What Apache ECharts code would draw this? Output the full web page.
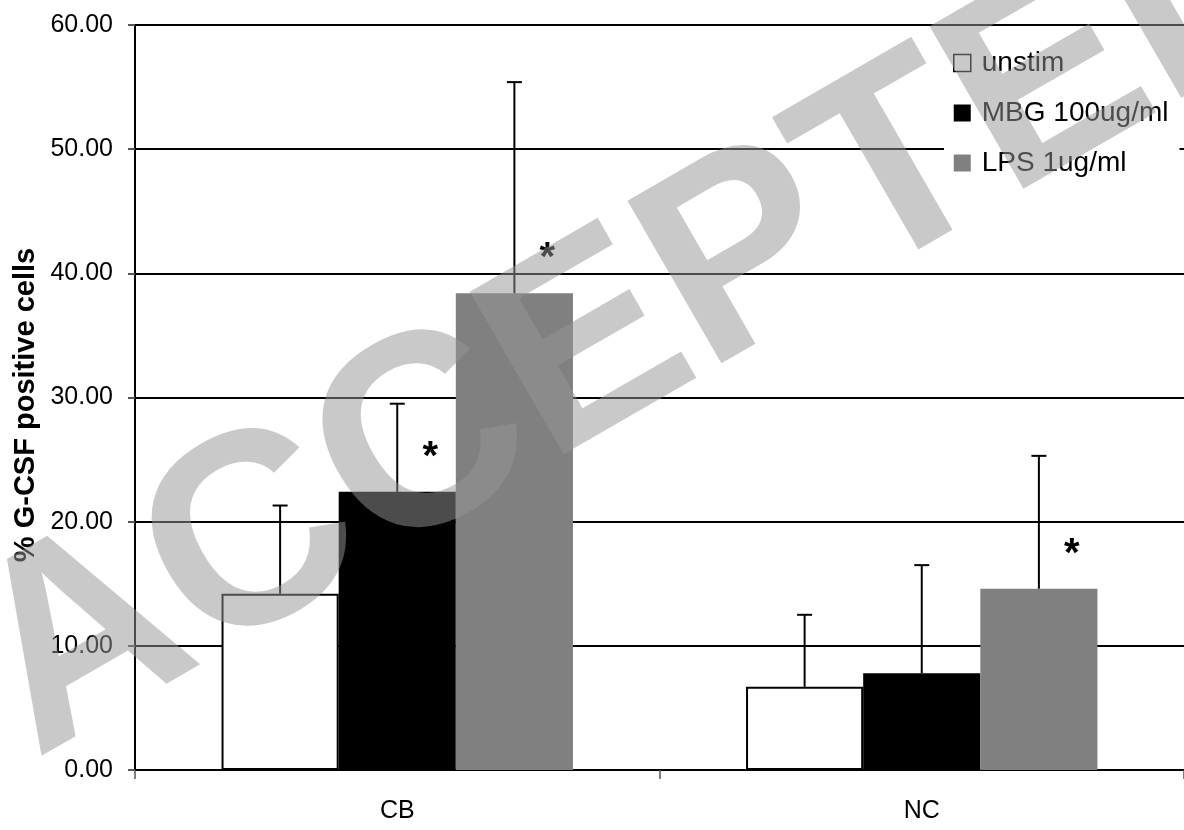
<!DOCTYPE html>
<html>
<head>
<meta charset="utf-8">
<script src="https://cdn.jsdelivr.net/npm/echarts@6/dist/echarts.min.js"></script>
<style>
  html, body { margin: 0; padding: 0; background: #fff; }
  #chart { width: 1184px; height: 830px; }
</style>
</head>
<body>
<div id="chart"></div>
<script>
// Groups on the category axis
const categories = ['CB', 'NC'];

// Mean % of G-CSF positive cells per stimulation
const unstim = [14.2, 6.7];
const mbg = [22.4, 7.8];
const lps = [38.4, 14.6];

// Upper error (SD) for each bar
const unstimErr = [7.1, 5.8];
const mbgErr = [7.1, 8.7];
const lpsErr = [17.0, 10.7];

// Significance markers (asterisk above bar)
const unstimSig = [false, false];
const mbgSig = [true, false];
const lpsSig = [true, true];

const seriesNames = ['unstim', 'MBG 100ug/ml', 'LPS 1ug/ml'];
const yTicks = [0, 10, 20, 30, 40, 50, 60];

const FONT = '"Liberation Sans", Arial, Helvetica, sans-serif';
const GAP = 0.33; // barCategoryGap as a fraction

const chart = echarts.init(document.getElementById('chart'), null, { renderer: 'canvas' });

function sigLabel(sig) {
  return {
    show: true,
    position: 'top',
    distance: 0,
    offset: [33, -14],
    formatter: p => (sig[p.dataIndex] ? '*' : ''),
    fontFamily: FONT,
    fontWeight: 'bold',
    fontSize: 40,
    color: '#000'
  };
}

function errorSeries(values, errs, slot) {
  return {
    type: 'custom',
    z: 5,
    silent: true,
    encode: { x: 0, y: 1 },
    data: values.map((v, i) => [i, v, errs[i]]),
    renderItem: (params, api) => {
      const idx = api.value(0);
      const mean = api.value(1);
      const err = api.value(2);
      const catW = api.size([1, 0])[0];
      const barW = catW * (1 - GAP) / 3;
      const base = api.coord([idx, mean]);
      const top = api.coord([idx, mean + err]);
      const x = base[0] + (slot - 1) * barW;
      const style = { stroke: '#000', lineWidth: 2 };
      return {
        type: 'group',
        children: [
          { type: 'line', shape: { x1: x, y1: base[1], x2: x, y2: top[1] }, style },
          { type: 'line', shape: { x1: x - 7.5, y1: top[1], x2: x + 7.5, y2: top[1] }, style }
        ]
      };
    }
  };
}

const option = {
  backgroundColor: '#fff',
  animation: false,
  grid: { left: 135, right: -3, top: 25, bottom: 60, containLabel: false },
  legend: {
    orient: 'vertical',
    left: 944,
    top: 35,
    padding: [13, 11, 13, 9],
    backgroundColor: '#fff',
    itemWidth: 17,
    itemHeight: 17,
    itemGap: 20,
    icon: 'rect',
    textStyle: { fontFamily: FONT, fontSize: 28, color: '#000', lineHeight: 30, padding: [0, 0, 0, 6] },
    data: [
      { name: seriesNames[0], itemStyle: { color: '#fff', borderColor: '#000', borderWidth: 1.5 } },
      { name: seriesNames[1], itemStyle: { color: '#000', borderWidth: 0 } },
      { name: seriesNames[2], itemStyle: { color: '#808080', borderWidth: 0 } }
    ]
  },
  xAxis: {
    type: 'category',
    data: categories,
    axisLine: { lineStyle: { color: '#000', width: 2 } },
    axisTick: { show: true, length: 9, lineStyle: { color: '#555', width: 1.5 } },
    axisLabel: { fontFamily: FONT, fontSize: 25, color: '#000', margin: 29 },
    splitLine: { show: false }
  },
  yAxis: {
    type: 'value',
    min: yTicks[0],
    max: yTicks[yTicks.length - 1],
    interval: 10,
    axisLine: { show: true, lineStyle: { color: '#000', width: 2 } },
    axisTick: { show: true, length: 7, lineStyle: { color: '#555', width: 2 } },
    axisLabel: {
      fontFamily: FONT, fontSize: 25, color: '#000', margin: 22,
      formatter: v => v.toFixed(2)
    },
    splitLine: { show: true, lineStyle: { color: '#000', width: 2 } }
  },
  series: [
    {
      name: seriesNames[0], type: 'bar', data: unstim,
      barGap: 0, barCategoryGap: (GAP * 100) + '%',
      itemStyle: { color: '#fff', borderColor: '#000', borderWidth: 2 },
      label: sigLabel(unstimSig)
    },
    {
      name: seriesNames[1], type: 'bar', data: mbg,
      barGap: 0, barCategoryGap: (GAP * 100) + '%',
      itemStyle: { color: '#000' },
      label: sigLabel(mbgSig)
    },
    {
      name: seriesNames[2], type: 'bar', data: lps,
      barGap: 0, barCategoryGap: (GAP * 100) + '%',
      itemStyle: { color: '#808080' },
      label: sigLabel(lpsSig)
    },
    errorSeries(unstim, unstimErr, 0),
    errorSeries(mbg, mbgErr, 1),
    errorSeries(lps, lpsErr, 2)
  ],
  graphic: [
    {
      type: 'text',
      x: 26, y: 405,
      rotation: Math.PI / 2,
      style: {
        text: '% G-CSF positive cells',
        font: 'bold 29px ' + FONT,
        fill: '#000',
        align: 'center',
        verticalAlign: 'middle'
      }
    },
    {
      type: 'text',
      x: -2, y: 694,
      rotation: Math.PI / 6,
      z: 100,
      silent: true,
      style: {
        text: 'ACCEPTED',
        font: 'bold 273px ' + FONT,
        fill: 'rgba(150,150,150,0.51)',
        align: 'left',
        verticalAlign: 'middle'
      }
    }
  ]
};

chart.setOption(option);
</script>
</body>
</html>
